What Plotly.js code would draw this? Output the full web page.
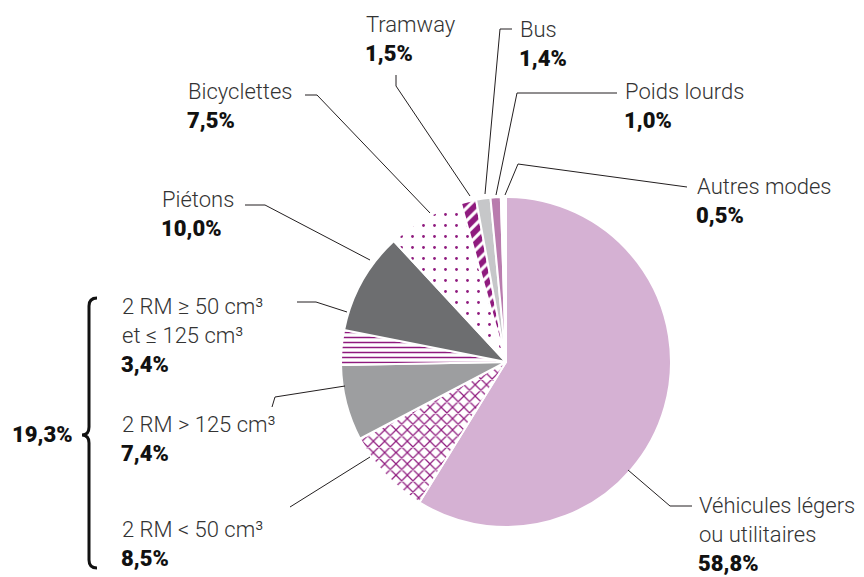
<!DOCTYPE html>
<html lang="fr">
<head>
<meta charset="UTF-8">
<title>Répartition par mode</title>
<script src="https://cdn.plot.ly/plotly-3.0.1.min.js"></script>
<style>
  body { margin: 0; background: #fff; }
  #chart { width: 864px; height: 577px; }
</style>
</head>
<body>
<div id="chart"></div>
<script>
// Données
const modes = ['Véhicules légers ou utilitaires', '2 RM < 50 cm³', '2 RM > 125 cm³',
  '2 RM ≥ 50 cm³ et ≤ 125 cm³', 'Piétons', 'Bicyclettes', 'Tramway', 'Bus',
  'Poids lourds', 'Autres modes'];
const parts = [58.8, 8.5, 7.4, 3.4, 10.0, 7.5, 1.5, 1.4, 1.0, 0.5];
const labelLines = [
  ['Véhicules légers', 'ou utilitaires'], ['2 RM < 50 cm³'], ['2 RM > 125 cm³'],
  ['2 RM ≥ 50 cm³', 'et ≤ 125 cm³'], ['Piétons'], ['Bicyclettes'], ['Tramway'],
  ['Bus'], ['Poids lourds'], ['Autres modes']
];
const deuxRouesTotal = 19.3;

// Styles des parts
const purple = '#8f1a7e';
const fills = ['#d5b1d3', '#ffffff', '#9d9ea0', '#ffffff', '#6d6e70', '#ffffff', purple, '#c6c7c9', '#b97cae', '#ffffff'];
const patShape = ['', 'x', '', '-', '', '.', '/', '', '', ''];
const patFg = ['#000', purple, '#000', purple, '#000', purple, '#ffffff', '#000', '#000', '#000'];
const patSize = [8, 8, 8, 5, 8, 11, 9, 8, 8, 8];
const patSolid = [0.3, 0.28, 0.3, 0.3, 0.3, 0.05, 0.35, 0.3, 0.3, 0.3];

// position des étiquettes (pixels, milieu de la première ligne) et traits de rappel
const labelPos = [
  [697, 505], [120, 529], [120, 424], [120, 306], [160, 199],
  [186, 91], [364, 25], [518, 29], [623, 91], [695, 187]
];
const leaders = [
  [[628, 470], [670, 506], [692, 506]],
  [[290, 507], [370, 457]],
  [[272, 407], [275, 397], [345, 386]],
  [[297, 302], [316, 302], [347, 312]],
  [[245, 205], [265, 205], [370, 260]],
  [[305, 95], [317, 95], [430, 213]],
  [[396, 75], [396, 86], [470, 196]],
  [[512, 29], [500, 29], [485, 194]],
  [[617, 93], [517, 93], [496, 195]],
  [[687, 187], [518, 164], [505, 195]]
];

const W = 864, H = 577;
const px = x => x / W;
const py = y => 1 - y / H;
const fmt = v => v.toFixed(1).replace('.', ',') + '%';

const labelFont = { family: 'Roboto, "Open Sans", sans-serif', size: 22, color: '#333333', weight: 300 };
const numFont = { family: 'Roboto, sans-serif', size: 22, color: '#111111', weight: 900 };
const lineGap = 29;

const annotations = [];
labelLines.forEach((lines, i) => {
  const [x, y] = labelPos[i];
  lines.forEach((t, k) => {
    annotations.push({ xref: 'paper', yref: 'paper', x: px(x), y: py(y + k * lineGap),
      xanchor: 'left', yanchor: 'middle', text: t, showarrow: false, font: labelFont });
  });
  annotations.push({ xref: 'paper', yref: 'paper', x: px(x - 1), y: py(y + lines.length * lineGap),
    xanchor: 'left', yanchor: 'middle', text: fmt(parts[i]), showarrow: false, font: numFont });
});
annotations.push({ xref: 'paper', yref: 'paper', x: px(10), y: py(434),
  xanchor: 'left', yanchor: 'middle', text: fmt(deuxRouesTotal), showarrow: false, font: numFont });

const shapes = leaders.map(pts => ({
  type: 'path', xref: 'paper', yref: 'paper',
  path: pts.map((p, k) => (k ? 'L' : 'M') + px(p[0]) + ',' + py(p[1])).join(' '),
  line: { color: '#231f20', width: 1 }
}));
// accolade des deux-roues motorisés
const brace = [['M', 97, 298], ['Q', 89, 298, 89, 306], ['L', 89, 427], ['Q', 89, 435, 82, 435],
  ['Q', 89, 435, 89, 443], ['L', 89, 560], ['Q', 89, 568, 97, 568]];
shapes.push({
  type: 'path', xref: 'paper', yref: 'paper',
  path: brace.map(s => s[0] + ' ' + s.slice(1).map((v, k) => k % 2 ? py(v) : px(v)).reduce((a, v, k) => a + (k % 2 ? ',' : ' ') + v, '')).join(' '),
  line: { color: '#111111', width: 3 }
});

const data = [{
  type: 'pie',
  labels: modes,
  values: parts,
  sort: false,
  direction: 'clockwise',
  rotation: 0,
  textinfo: 'none',
  hoverinfo: 'label+value',
  domain: { x: [px(341), px(671)], y: [py(527), py(197)] },
  marker: {
    colors: fills,
    line: { color: '#ffffff', width: 2 },
    pattern: { shape: patShape, fgcolor: patFg, bgcolor: fills, size: patSize, solidity: patSolid, fillmode: 'replace' }
  },
  showlegend: false
}];

const layout = {
  width: W, height: H,
  margin: { l: 0, r: 0, t: 0, b: 0 },
  paper_bgcolor: '#ffffff',
  showlegend: false,
  annotations: annotations,
  shapes: shapes
};

Plotly.newPlot('chart', data, layout, { displayModeBar: false, staticPlot: true });
</script>
</body>
</html>
